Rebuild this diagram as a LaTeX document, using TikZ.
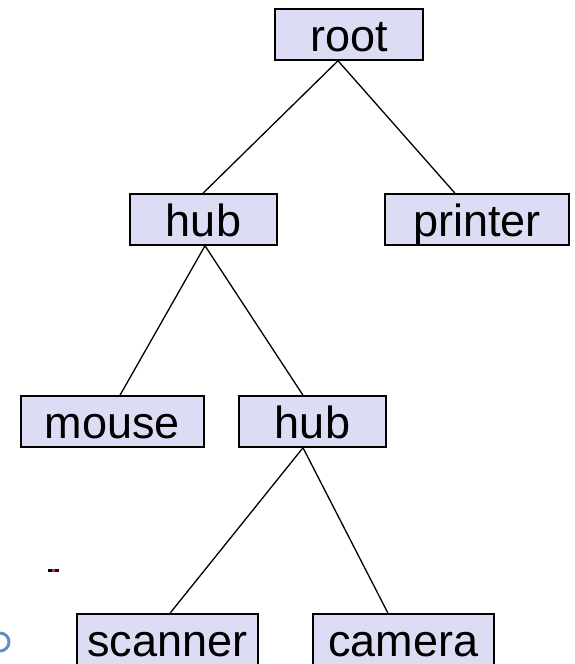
\documentclass[tikz,border=0pt]{standalone}
\usepackage{fontspec}
\setmainfont{Liberation Sans}
\usetikzlibrary{calc}
\definecolor{boxfill}{HTML}{DCDCF4}
\definecolor{iconblue}{HTML}{2060B0}
\tikzset{
  tnode/.style={draw=black, line width=1.5pt, fill=boxfill, inner sep=0pt,
    minimum height=51pt, text height=35pt, text depth=0pt,
    font=\fontsize{45pt}{45pt}\selectfont, anchor=center},
  edge/.style={draw=black, line width=1.3pt}
}
\begin{document}
\begin{tikzpicture}[x=1pt,y=1pt]
\useasboundingbox (0,0) rectangle (575,664);
\node[tnode, minimum width=148pt] (root) at (349,629.5) {root};
\node[tnode, minimum width=147pt] (hubA) at (203.5,444.5) {hub};
\node[tnode, minimum width=184pt] (printer) at (477,444.5) {printer};
\node[tnode, minimum width=183pt] (mouse) at (112.5,242.5) {mouse};
\node[tnode, minimum width=147pt] (hubB) at (312.5,242.5) {hub};
\node[tnode, minimum width=181pt] (scanner) at (167.5,24.5) {scanner};
\node[tnode, minimum width=181pt] (camera) at (403.5,24.5) {camera};
\draw[edge] ($(root.south)+(-11,0)$) -- ($(hubA.north)+(-0.5,0)$);
\draw[edge] ($(root.south)+(-11,0)$) -- ($(printer.north)+(-22,0)$);
\draw[edge] ($(hubA.south)+(1.5,0)$) -- ($(mouse.north)+(7.5,0)$);
\draw[edge] ($(hubA.south)+(1.5,0)$) -- ($(hubB.north)+(-9.5,0)$);
\draw[edge] ($(hubB.south)+(-9.5,0)$) -- ($(scanner.north)+(2.5,0)$);
\draw[edge] ($(hubB.south)+(-9.5,0)$) -- ($(camera.north)+(-15.5,0)$);
% small stray marks
\fill[black] (48,92) rectangle (52,95);
\fill[magenta!70!black] (52,92) rectangle (55,95);
\fill[black!80!red] (55,92) rectangle (59,95);
\draw[iconblue!70, line width=3pt] (0,31) arc[start angle=90, end angle=-90, radius=9];
\end{tikzpicture}
\end{document}
